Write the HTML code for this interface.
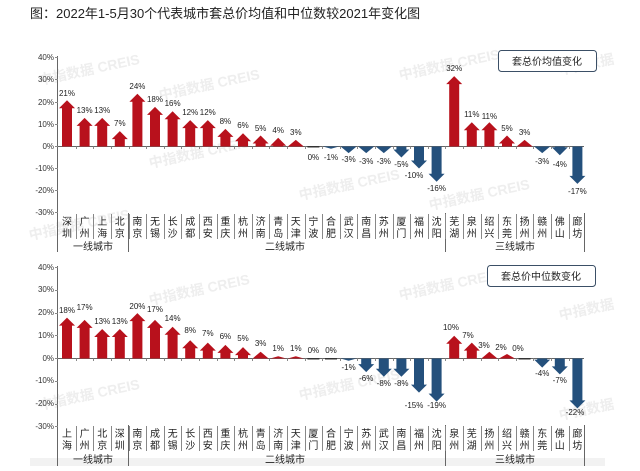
<!DOCTYPE html>
<html><head><meta charset="utf-8">
<style>
html,body{margin:0;padding:0;background:#fff;}
body{width:640px;height:466px;overflow:hidden;font-family:"Liberation Sans","Noto Sans CJK SC",sans-serif;}
svg text{font-family:"Liberation Sans","Noto Sans CJK SC",sans-serif;}
</style></head><body>
<svg id="s" width="640" height="466" viewBox="0 0 640 466" xmlns="http://www.w3.org/2000/svg">
<rect x="0" y="0" width="640" height="466" fill="#fff"/>
<rect x="30" y="458" width="575" height="8" fill="#f2f2f2"/>
<text x="30" y="18" font-size="13" fill="#222">图：2022年1-5月30个代表城市套总价均值和中位数较2021年变化图</text>

<g fill="#eeeeee" font-size="14" font-weight="bold">
<text transform="translate(40,85) rotate(-12)">中指数据 CREIS</text>
<text transform="translate(160,100) rotate(-12)">中指数据 CREIS</text>
<text transform="translate(400,80) rotate(-12)">中指数据 CREIS</text>
<text transform="translate(560,75) rotate(-12)">中指数据</text>
<text transform="translate(150,168) rotate(-12)">中指数据 CREIS</text>
<text transform="translate(300,200) rotate(-12)">中指数据 CREIS</text>
<text transform="translate(30,240) rotate(-12)">中指数据 CREIS</text>
<text transform="translate(430,210) rotate(-12)">中指数据 CREIS</text>
<text transform="translate(150,305) rotate(-12)">中指数据 CREIS</text>
<text transform="translate(400,300) rotate(-12)">中指数据 CREIS</text>
<text transform="translate(560,320) rotate(-12)">中指数据</text>
<text transform="translate(40,410) rotate(-12)">中指数据 CREIS</text>
<text transform="translate(300,400) rotate(-12)">中指数据 CREIS</text>
<text transform="translate(560,420) rotate(-12)">中指数据</text>
</g>

<g stroke="#666" stroke-width="1" fill="none">
<line x1="57.5" y1="56" x2="57.5" y2="252"/>
<line x1="57.5" y1="146.5" x2="584" y2="146.5"/>
<line x1="128.5" y1="213" x2="128.5" y2="252"/>
<line x1="445.5" y1="213" x2="445.5" y2="252"/>
<line x1="584.5" y1="213" x2="584.5" y2="252"/>
<line x1="57.5" y1="266" x2="57.5" y2="466"/>
<line x1="57.5" y1="358.5" x2="584" y2="358.5"/>
<line x1="128.5" y1="425" x2="128.5" y2="466"/>
<line x1="445.5" y1="425" x2="445.5" y2="466"/>
<line x1="584.5" y1="425" x2="584.5" y2="466"/>
</g>
<g id="ticks" stroke="#888" stroke-width="1"></g>

<g font-size="8" fill="#333" text-anchor="end">
<text x="54" y="60">40%</text><text x="54" y="82">30%</text><text x="54" y="105">20%</text><text x="54" y="127">10%</text><text x="54" y="149">0%</text><text x="54" y="171">-10%</text><text x="54" y="193">-20%</text><text x="54" y="215">-30%</text>
<text x="54" y="270">40%</text><text x="54" y="292">30%</text><text x="54" y="315">20%</text><text x="54" y="338">10%</text><text x="54" y="361">0%</text><text x="54" y="383">-10%</text><text x="54" y="406">-20%</text><text x="54" y="429">-30%</text>
</g>

<g id="bars"></g>

<rect x="498.5" y="50.5" width="98" height="21" rx="3" fill="#fff" stroke="#3b4f66" stroke-width="1"/>
<text x="547" y="65" font-size="10" text-anchor="middle" fill="#222">套总价均值变化</text>
<rect x="487.5" y="265.5" width="108" height="21" rx="3" fill="#fff" stroke="#3b4f66" stroke-width="1"/>
<text x="541" y="280" font-size="10" text-anchor="middle" fill="#222">套总价中位数变化</text>

<g font-size="8" fill="#222" text-anchor="middle">
<text x="67" y="96">21%</text><text x="84.6" y="113">13%</text><text x="102.2" y="113">13%</text><text x="119.8" y="126">7%</text>
<text x="137.4" y="89">24%</text><text x="155" y="102">18%</text><text x="172.6" y="106">16%</text><text x="190.2" y="115">12%</text><text x="207.8" y="115">12%</text><text x="225.4" y="124">8%</text><text x="243" y="128">6%</text><text x="260.6" y="131">5%</text><text x="278.2" y="133">4%</text><text x="295.8" y="135">3%</text>
<text x="313.4" y="160">0%</text><text x="331" y="160">-1%</text><text x="348.6" y="162">-3%</text><text x="366.2" y="164">-3%</text><text x="383.8" y="164">-3%</text><text x="401.4" y="167">-5%</text><text x="414" y="178">-10%</text><text x="436.6" y="191">-16%</text>
<text x="454.2" y="71">32%</text><text x="471.8" y="117">11%</text><text x="489.4" y="119">11%</text><text x="507" y="131">5%</text><text x="524.6" y="135">3%</text>
<text x="542.2" y="164">-3%</text><text x="559.8" y="167">-4%</text><text x="577.4" y="194">-17%</text>
</g>
<g font-size="8" fill="#222" text-anchor="middle">
<text x="67" y="313">18%</text><text x="84.6" y="310">17%</text><text x="102.2" y="324">13%</text><text x="119.8" y="324">13%</text>
<text x="137.4" y="309">20%</text><text x="155" y="312">17%</text><text x="172.6" y="321">14%</text><text x="190.2" y="333">8%</text><text x="207.8" y="336">7%</text><text x="225.4" y="339">6%</text><text x="243" y="341">5%</text><text x="260.6" y="346">3%</text><text x="278.2" y="351">1%</text><text x="295.8" y="351">1%</text><text x="313.4" y="353">0%</text><text x="331" y="353">0%</text>
<text x="348.6" y="370">-1%</text><text x="366.2" y="381">-6%</text><text x="383.8" y="386">-8%</text><text x="401.4" y="386">-8%</text><text x="414" y="408">-15%</text><text x="436.6" y="408">-19%</text>
<text x="451" y="330">10%</text><text x="468" y="338">7%</text><text x="484" y="348">3%</text><text x="501" y="350">2%</text><text x="518" y="351">0%</text>
<text x="542.2" y="376">-4%</text><text x="559.8" y="383">-7%</text><text x="575" y="415">-22%</text>
</g>

<g font-size="10" fill="#222" text-anchor="middle">
<text x="67" y="225">深</text><text x="67" y="237">圳</text>
<text x="84.6" y="225">广</text><text x="84.6" y="237">州</text>
<text x="102.2" y="225">上</text><text x="102.2" y="237">海</text>
<text x="119.8" y="225">北</text><text x="119.8" y="237">京</text>
<text x="137.4" y="225">南</text><text x="137.4" y="237">京</text>
<text x="155" y="225">无</text><text x="155" y="237">锡</text>
<text x="172.6" y="225">长</text><text x="172.6" y="237">沙</text>
<text x="190.2" y="225">成</text><text x="190.2" y="237">都</text>
<text x="207.8" y="225">西</text><text x="207.8" y="237">安</text>
<text x="225.4" y="225">重</text><text x="225.4" y="237">庆</text>
<text x="243" y="225">杭</text><text x="243" y="237">州</text>
<text x="260.6" y="225">济</text><text x="260.6" y="237">南</text>
<text x="278.2" y="225">青</text><text x="278.2" y="237">岛</text>
<text x="295.8" y="225">天</text><text x="295.8" y="237">津</text>
<text x="313.4" y="225">宁</text><text x="313.4" y="237">波</text>
<text x="331" y="225">合</text><text x="331" y="237">肥</text>
<text x="348.6" y="225">武</text><text x="348.6" y="237">汉</text>
<text x="366.2" y="225">南</text><text x="366.2" y="237">昌</text>
<text x="383.8" y="225">苏</text><text x="383.8" y="237">州</text>
<text x="401.4" y="225">厦</text><text x="401.4" y="237">门</text>
<text x="419" y="225">福</text><text x="419" y="237">州</text>
<text x="436.6" y="225">沈</text><text x="436.6" y="237">阳</text>
<text x="454.2" y="225">芜</text><text x="454.2" y="237">湖</text>
<text x="471.8" y="225">泉</text><text x="471.8" y="237">州</text>
<text x="489.4" y="225">绍</text><text x="489.4" y="237">兴</text>
<text x="507" y="225">东</text><text x="507" y="237">莞</text>
<text x="524.6" y="225">扬</text><text x="524.6" y="237">州</text>
<text x="542.2" y="225">赣</text><text x="542.2" y="237">州</text>
<text x="559.8" y="225">佛</text><text x="559.8" y="237">山</text>
<text x="577.4" y="225">廊</text><text x="577.4" y="237">坊</text>
<text x="93" y="250">一线城市</text><text x="285" y="250">二线城市</text><text x="515" y="250">三线城市</text>

<text x="67" y="437">上</text><text x="67" y="449">海</text>
<text x="84.6" y="437">广</text><text x="84.6" y="449">州</text>
<text x="102.2" y="437">北</text><text x="102.2" y="449">京</text>
<text x="119.8" y="437">深</text><text x="119.8" y="449">圳</text>
<text x="137.4" y="437">南</text><text x="137.4" y="449">京</text>
<text x="155" y="437">成</text><text x="155" y="449">都</text>
<text x="172.6" y="437">无</text><text x="172.6" y="449">锡</text>
<text x="190.2" y="437">长</text><text x="190.2" y="449">沙</text>
<text x="207.8" y="437">西</text><text x="207.8" y="449">安</text>
<text x="225.4" y="437">重</text><text x="225.4" y="449">庆</text>
<text x="243" y="437">杭</text><text x="243" y="449">州</text>
<text x="260.6" y="437">青</text><text x="260.6" y="449">岛</text>
<text x="278.2" y="437">济</text><text x="278.2" y="449">南</text>
<text x="295.8" y="437">天</text><text x="295.8" y="449">津</text>
<text x="313.4" y="437">厦</text><text x="313.4" y="449">门</text>
<text x="331" y="437">合</text><text x="331" y="449">肥</text>
<text x="348.6" y="437">宁</text><text x="348.6" y="449">波</text>
<text x="366.2" y="437">苏</text><text x="366.2" y="449">州</text>
<text x="383.8" y="437">武</text><text x="383.8" y="449">汉</text>
<text x="401.4" y="437">南</text><text x="401.4" y="449">昌</text>
<text x="419" y="437">福</text><text x="419" y="449">州</text>
<text x="436.6" y="437">沈</text><text x="436.6" y="449">阳</text>
<text x="454.2" y="437">泉</text><text x="454.2" y="449">州</text>
<text x="471.8" y="437">芜</text><text x="471.8" y="449">湖</text>
<text x="489.4" y="437">扬</text><text x="489.4" y="449">州</text>
<text x="507" y="437">绍</text><text x="507" y="449">兴</text>
<text x="524.6" y="437">赣</text><text x="524.6" y="449">州</text>
<text x="542.2" y="437">东</text><text x="542.2" y="449">莞</text>
<text x="559.8" y="437">佛</text><text x="559.8" y="449">山</text>
<text x="577.4" y="437">廊</text><text x="577.4" y="449">坊</text>
<text x="93" y="463">一线城市</text><text x="285" y="463">二线城市</text><text x="515" y="463">三线城市</text>
</g>
</svg>
<script>
(function(){
var NS="http://www.w3.org/2000/svg";
var xs=[];for(var i=0;i<30;i++)xs.push(67+i*17.6);
var top=[21,13,13,7,24,18,16,12,12,8,6,5,4,3,0,-1,-3,-3,-3,-5,-10,-16,32,11,11,5,3,-3,-4,-17];
var bot=[18,17,13,13,20,17,14,8,7,6,5,3,1,1,0,0,-1,-6,-8,-8,-15,-19,10,7,3,2,0,-4,-7,-22];
var g=document.getElementById("bars"),tk=document.getElementById("ticks");
function arrows(d,Z,s){
 for(var i=0;i<30;i++){
  var v=d[i],x=xs[i];
  if(v===0){var l=document.createElementNS(NS,"rect");l.setAttribute("x",x-6);l.setAttribute("y",Z-0.5);l.setAttribute("width",12);l.setAttribute("height",1.5);l.setAttribute("fill","#333");g.appendChild(l);continue;}
  var len=Math.abs(v)*s,dir=v>0?-1:1,T=Z+dir*len,hh=Math.min(8,len),yb=T-dir*hh;
  var p=[[x-5,Z],[x-5,yb],[x-8,yb],[x,T],[x+8,yb],[x+5,yb],[x+5,Z]].map(function(a){return a[0].toFixed(1)+","+a[1].toFixed(1)}).join(" ");
  var e=document.createElementNS(NS,"polygon");e.setAttribute("points",p);e.setAttribute("fill",v>0?"#b8111c":"#24507c");g.appendChild(e);
 }
}
arrows(top,146.5,2.2);arrows(bot,358.5,2.27);
function line(x1,y1,x2,y2){var l=document.createElementNS(NS,"line");l.setAttribute("x1",x1);l.setAttribute("y1",y1);l.setAttribute("x2",x2);l.setAttribute("y2",y2);tk.appendChild(l);}
for(var i=0;i<29;i++){var mx=Math.round(67+i*17.6+8.8)+0.5;line(mx,214,mx,239);line(mx,426,mx,451);line(mx,146.5,mx,149);line(mx,358.5,mx,361);}
[57,79,102,124,146,168,190,212].forEach(function(y){line(55,y+0.5,58,y+0.5);});
[267,290,313,335,358,381,404,426].forEach(function(y){line(55,y+0.5,58,y+0.5);});
})();
</script>
</body></html>
